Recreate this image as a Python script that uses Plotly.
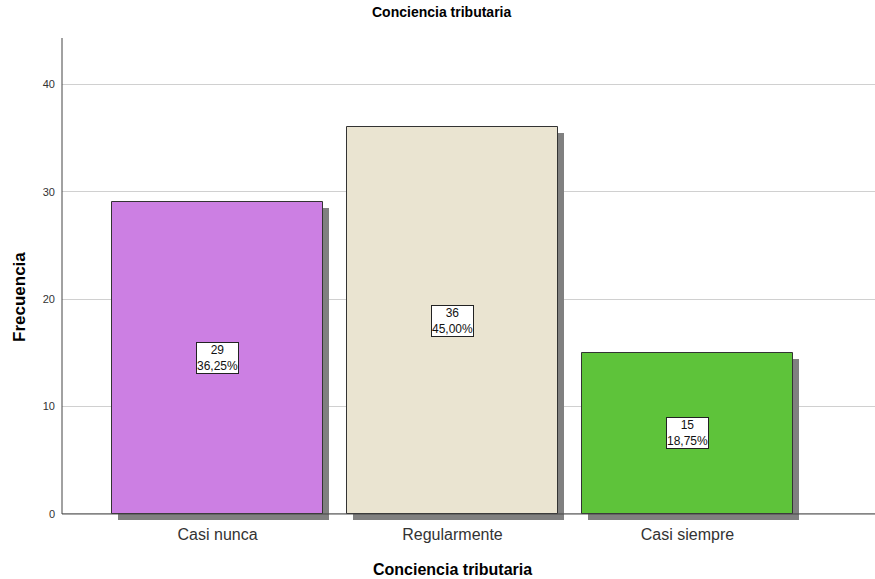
import plotly.graph_objects as go

categories = ["Casi nunca", "Regularmente", "Casi siempre"]
frequencies = [29, 36, 15]
percent_labels = ["36,25%", "45,00%", "18,75%"]
bar_colors = ["#CC7FE3", "#EAE4D1", "#5EC33A"]

FONT = "Liberation Sans, Arial, sans-serif"
x_pos = list(range(len(categories)))
bar_w = 0.898
shadow_dx = 0.026
shadow_dy = 0.56

fig = go.Figure()

# drop shadows behind each bar
fig.add_trace(go.Bar(
    x=[p + shadow_dx for p in x_pos], y=frequencies, base=[-shadow_dy] * len(frequencies),
    width=bar_w, marker=dict(color="#808080", line=dict(width=0)),
    hoverinfo="skip", showlegend=False,
))
# main bars
fig.add_trace(go.Bar(
    x=x_pos, y=frequencies, width=bar_w,
    marker=dict(color=bar_colors, line=dict(color="#333333", width=1)),
    showlegend=False,
))

# value / percent boxes in the middle of each bar
for p, f, pct in zip(x_pos, frequencies, percent_labels):
    fig.add_annotation(
        x=p, y=f / 2, xref="x", yref="y", text=f"{f}<br>{pct}", showarrow=False,
        font=dict(family=FONT, size=12, color="#111111"),
        bgcolor="white", bordercolor="#222222", borderwidth=1, borderpad=0,
    )

# axis lines
fig.add_shape(type="line", xref="paper", yref="y", x0=0, x1=1, y0=0, y1=0,
              line=dict(color="#444444", width=1))
fig.add_shape(type="line", xref="paper", yref="y", x0=0, x1=0, y0=0, y1=44.3,
              line=dict(color="#444444", width=1))

fig.add_annotation(text="<b>Conciencia tributaria</b>", xref="paper", yref="paper",
                   x=(441 - 62) / 813, y=1, yshift=26, xanchor="center", yanchor="middle",
                   showarrow=False, font=dict(family=FONT, size=14, color="black"))
fig.add_annotation(text="<b>Conciencia tributaria</b>", xref="x", yref="paper",
                   x=1, y=0, yshift=-49, xanchor="center", yanchor="middle",
                   showarrow=False, font=dict(family=FONT, size=16, color="black"))
fig.add_annotation(text="<b>Frecuencia</b>", xref="paper", yref="paper",
                   x=0, xshift=-43, y=(520 - 297) / 482, xanchor="center", yanchor="middle",
                   showarrow=False, textangle=-90,
                   font=dict(family=FONT, size=17, color="black"))

fig.update_layout(
    width=875, height=579,
    margin=dict(l=62, r=0, t=38, b=59),
    paper_bgcolor="white", plot_bgcolor="white",
    barmode="overlay", bargap=0,
    font=dict(family=FONT, color="#333333"),
    xaxis=dict(range=[-0.662, 2.798], tickvals=x_pos, ticktext=categories,
               showgrid=False, zeroline=False, showline=False, ticks="",
               tickfont=dict(size=16, color="#333333"), ticklabelstandoff=3),
    yaxis=dict(range=[-shadow_dy, 44.3], tickvals=[0, 10, 20, 30, 40],
               showgrid=True, gridcolor="#D0D0D0", gridwidth=1,
               zeroline=False, showline=False, ticks="",
               tickfont=dict(size=11, color="#333333"), ticklabelstandoff=6),
)

fig.write_html("out.html")
